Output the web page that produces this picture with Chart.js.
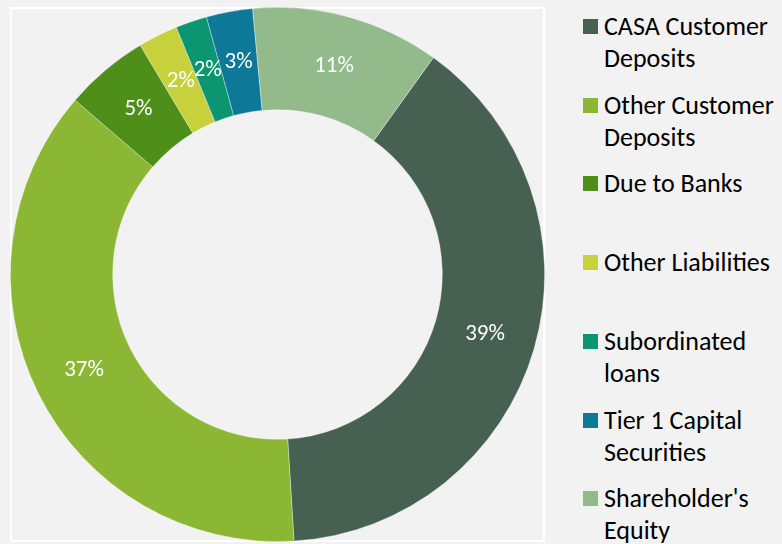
<!DOCTYPE html>
<html>
<head>
<meta charset="utf-8">
<script src="https://cdn.jsdelivr.net/npm/chart.js@4.4.1/dist/chart.umd.min.js"></script>
<style>
  html, body { margin: 0; padding: 0; background: #f2f2f2; }
  #wrap { position: relative; width: 782px; height: 544px; overflow: hidden; background: #f2f2f2; }
  #frame { position: absolute; left: 10px; top: 7px; width: 531px; height: 531px; border: 2px solid #ffffff; }
  #pie { position: absolute; left: 10px; top: 7px; }
  #legend { position: absolute; left: 583px; top: 0; font-family: Carlito, Lato, sans-serif; font-size: 26px; color: #000; }
  .item { position: absolute; left: 0; width: 200px; line-height: 32px; }
  .box { position: absolute; left: 0; top: 9px; width: 15px; height: 15px; }
  .txt { position: absolute; left: 21px; top: 0; white-space: nowrap; }
</style>
</head>
<body>
<div id="wrap">
  <div id="frame"></div>
  <canvas id="pie" width="535" height="535"></canvas>
  <div id="legend"></div>
</div>
<script>
const categories = [
  ['CASA Customer', 'Deposits'],
  ['Other Customer', 'Deposits'],
  ['Due to Banks'],
  ['Other Liabilities'],
  ['Subordinated', 'loans'],
  ['Tier 1 Capital', 'Securities'],
  ["Shareholder's", 'Equity']
];
const shares = [39.1, 37.3, 5.1, 2.4, 1.9, 2.8, 11.4];
const colors = ['#466152', '#8cb734', '#4e8f1a', '#c6d13b', '#0b9570', '#0e7898', '#93ba8b'];

// legend on the right, one entry per category
let legend = document.getElementById('legend');
categories.forEach((lines, i) => {
  let item = document.createElement('div');
  item.className = 'item';
  item.style.top = (10 + i * 78.7) + 'px';
  let box = document.createElement('div');
  box.className = 'box';
  box.style.background = colors[i];
  let txt = document.createElement('div');
  txt.className = 'txt';
  txt.innerHTML = lines.join('<br>');
  item.append(box, txt);
  legend.append(item);
});

const pctLabels = {
  id: 'pctLabels',
  afterDatasetsDraw(chart) {
    let ctx = chart.ctx;
    let meta = chart.getDatasetMeta(0);
    ctx.save();
    ctx.fillStyle = '#ffffff';
    ctx.font = '23px Carlito, Lato, sans-serif';
    ctx.textAlign = 'center';
    ctx.textBaseline = 'middle';
    meta.data.forEach((arc, i) => {
      let p = arc.tooltipPosition();
      ctx.fillText(Math.round(shares[i]) + '%', p.x, p.y);
    });
    ctx.restore();
  }
};

let ctx = document.getElementById('pie').getContext('2d');
new Chart(ctx, {
  type: 'doughnut',
  data: {
    labels: categories.map(c => c.join(' ')),
    datasets: [{
      data: shares,
      backgroundColor: colors,
      borderColor: 'rgba(255,255,255,0.45)',
      borderWidth: 0.75
    }]
  },
  options: {
    responsive: false,
    animation: false,
    rotation: 35.7,
    cutout: '61.7%',
    layout: { padding: 0 },
    plugins: {
      legend: { display: false },
      tooltip: { enabled: false }
    }
  },
  plugins: [pctLabels]
});
</script>
</body>
</html>
